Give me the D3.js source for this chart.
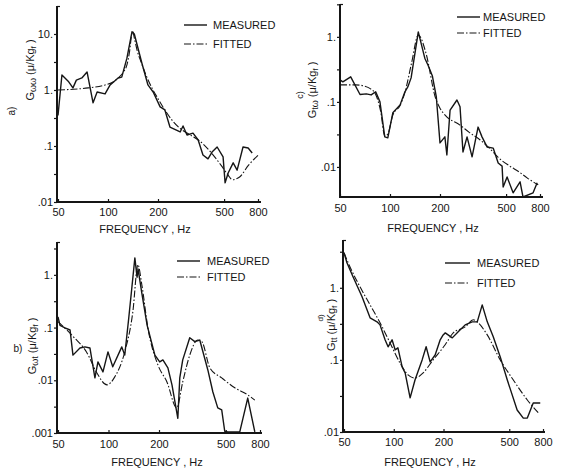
<!DOCTYPE html>
<html>
<head>
<meta charset="utf-8">
<script src="https://cdn.jsdelivr.net/npm/d3@7"></script>
<style>
  body { margin: 0; background: #fff; }
  text { font-family: "Liberation Sans", Arial, sans-serif; fill: #151515; }
</style>
</head>
<body>
<div id="chart"></div>
<script>
// frequency ticks shared by all four panels
const xTicks = [50, 100, 200, 500, 800];
const xTickLabels = ["50", "100", "200", "500", "800"];
const legendLabels = ["MEASURED", "FITTED"];
const xTitle = "FREQUENCY , Hz";

// a) G_ww  [Hz, value]
const aMeasured = [[50,0.35],[52.8,1.85],[58,1.4],[61.5,1.09],[64.5,1.5],[69.6,1.64],[74.8,2.1],[81.3,0.59],[86,0.92],[96,0.85],[103,1.23],[115,1.64],[121,1.7],[130,3.7],[139.5,11],[144,10],[160,3.0],[174,1.23],[187,0.92],[206,0.5],[220,0.44],[236,0.218],[272,0.178],[283,0.228],[299,0.157],[325,0.17],[349,0.128],[373,0.069],[400,0.059],[423,0.078],[454,0.096],[493,0.064],[507,0.022],[529,0.033],[567,0.05],[599,0.037],[650,0.096],[698,0.092],[738,0.075]];
const aFitted = [[50,1.0],[62,1.03],[76,1.09],[96,1.23],[108,1.4],[115,1.64],[124,2.1],[130,2.8],[135,5],[139,10],[141,11],[144,8.5],[150,5],[158,3.2],[170,1.8],[185,1.05],[200,0.7],[220,0.44],[245,0.28],[275,0.2],[310,0.16],[360,0.12],[420,0.075],[480,0.045],[530,0.03],[560,0.025],[620,0.028],[700,0.045],[800,0.068]];
const aYTicks = [10, 1, 0.1, 0.01];
const aYTickLabels = ["10.", "1.", ".1", ".01"];

// c) G_tw
const cMeasured = [[50,0.218],[52,0.203],[58,0.243],[66,0.13],[72,0.133],[77,0.128],[82,0.143],[87,0.1],[93,0.029],[97,0.028],[104,0.068],[115,0.09],[123,0.143],[128,0.17],[134,0.234],[148,1.19],[162,0.47],[170,0.36],[180,0.25],[190,0.12],[200,0.0234],[214,0.029],[220,0.0153],[230,0.075],[253,0.107],[264,0.084],[275,0.017],[291,0.029],[312,0.0143],[339,0.041],[358,0.029],[384,0.0203],[418,0.0195],[448,0.0115],[473,0.0103],[480,0.0049],[507,0.007],[551,0.004],[607,0.0059],[632,0.00345],[727,0.004],[769,0.0057]];
const cFitted = [[50,0.183],[62,0.183],[70,0.175],[76,0.16],[82,0.13],[88,0.07],[93,0.03],[97,0.032],[104,0.063],[115,0.088],[123,0.14],[135,0.4],[148,1.07],[165,0.55],[187,0.12],[200,0.08],[214,0.063],[264,0.044],[300,0.034],[349,0.026],[400,0.019],[448,0.014],[520,0.0105],[607,0.0082],[669,0.0068],[780,0.0053]];
const cYTicks = [1, 0.1, 0.01];
const cYTickLabels = ["1.", ".1", ".01"];

// b) G_wt
const bMeasured = [[50,0.16],[51.4,0.11],[55,0.099],[59,0.09],[61.4,0.03],[67.6,0.041],[72.4,0.043],[77.5,0.041],[83,0.0111],[86.5,0.0223],[92.7,0.0144],[99.3,0.0346],[106,0.018],[120,0.043],[125,0.03],[132,0.15],[138,0.6],[143.6,2.1],[148,0.9],[150,1.3],[158,0.45],[170,0.11],[189,0.03],[202,0.0223],[211,0.0244],[226,0.0172],[239,0.0082],[259,0.0019],[266,0.0111],[277,0.0244],[305,0.064],[327,0.054],[350,0.058],[391,0.0157],[419,0.006],[448,0.003],[473,0.00274],[493,0.00108],[514,0.00105],[606,0.00105],[676,0.0046],[745,0.00105]];
const bFitted = [[50,0.13],[62,0.066],[74.5,0.033],[85,0.014],[98,0.0082],[109,0.0116],[125,0.0346],[139.7,0.2],[149.7,1.55],[158,0.65],[171.7,0.099],[197,0.0196],[223,0.0093],[255,0.003],[277,0.0093],[305,0.03],[340,0.058],[360,0.054],[402,0.0172],[473,0.0111],[566,0.0072],[676,0.0053],[745,0.0042]];
const bYTicks = [1, 0.1, 0.01, 0.001];
const bYTickLabels = ["1.", ".1", ".01", ".001"];

// d) G_tt
const dMeasured = [[50,3.06],[52.1,2.22],[56.7,1.42],[64.3,0.75],[71.9,0.383],[79.2,0.337],[82.6,0.306],[88.6,0.19],[92.4,0.152],[97.7,0.19],[100,0.16],[101.9,0.138],[106,0.147],[112.4,0.08],[117.2,0.066],[125.6,0.0297],[134.6,0.053],[148.5,0.1],[157,0.152],[166,0.094],[178,0.117],[191,0.19],[199,0.222],[205,0.237],[226,0.202],[245.5,0.245],[270.5,0.306],[298,0.337],[320,0.337],[343,0.58],[368,0.337],[400,0.209],[441,0.11],[486,0.053],[558,0.0202],[608,0.0156],[643,0.0156],[698,0.0253],[770,0.0253]];
const dFitted = [[50,3.06],[54.3,1.96],[62.5,1.03],[71.9,0.58],[82.6,0.327],[95,0.172],[109,0.091],[122,0.062],[134.6,0.056],[150.6,0.066],[173,0.1],[204.7,0.162],[229,0.237],[270.5,0.287],[303,0.36],[324,0.327],[368,0.222],[441,0.1],[528,0.053],[643,0.0278],[750,0.0184]];
const dYTicks = [1, 0.1, 0.01];
const dYTickLabels = ["1.", ".1", ".01"];

const panels = [
  { tag: "a)", tagPos: [12, 111], tagRot: true, tagSize: 10, sub: "\u03c9\u03c9", gap: " ", labelPos: [34, 70],
    measured: aMeasured, fitted: aFitted, yTicks: aYTicks, yTickLabels: aYTickLabels,
    xRange: [58, 258], axisX: 57, axisEnd: 261, yDomain: [0.01, 31.6], yRange: [202, 6],
    tickPad: 4, titlePos: [145, 233], legend: [184, 207, 213, 25, 44] },
  { tag: "c)", tagPos: [300, 95], tagRot: true, tagSize: 9, sub: "t\u03c9", gap: " ", labelPos: [316, 90],
    measured: cMeasured, fitted: cFitted, yTicks: cYTicks, yTickLabels: cYTickLabels,
    xRange: [340, 540], axisX: 340, axisEnd: 543, yDomain: [0.00345, 3.2], yRange: [197, 4],
    tickPad: 5, titlePos: [433, 232], legend: [457, 480, 483, 17, 33] },
  { tag: "b)", tagPos: [18, 352], tagRot: false, tagSize: 10, sub: "\u03c9t", gap: "   ", labelPos: [36, 346],
    measured: bMeasured, fitted: bFitted, yTicks: bYTicks, yTickLabels: bYTickLabels,
    xRange: [58, 260], axisX: 57, axisEnd: 262, yDomain: [0.001, 4.2], yRange: [433, 242],
    tickPad: 5, titlePos: [157, 466], legend: [177, 200, 207, 261, 277] },
  { tag: "d)", tagPos: [320, 318], tagRot: true, tagSize: 8, sub: "tt", gap: " ", labelPos: [335, 325],
    measured: dMeasured, fitted: dFitted, yTicks: dYTicks, yTickLabels: dYTickLabels,
    xRange: [344, 543], axisX: 343, axisEnd: 545, yDomain: [0.01, 4.6], yRange: [432, 240],
    tickPad: 4, titlePos: [430, 466], legend: [445, 470, 477, 263, 283] }
];

const ink = "#151515";
const fitDash = "7,2,1.5,2";

const svg = d3.select("#chart").append("svg")
  .attr("width", 567)
  .attr("height", 475);

panels.forEach(p => {
  const g = svg.append("g");
  const x = d3.scaleLog().domain([50, 800]).range(p.xRange);
  const y = d3.scaleLog().domain(p.yDomain).range(p.yRange);
  const yBottom = p.yRange[0], yTop = p.yRange[1];

  // half-decade ticks on the left axis
  const lo = Math.ceil(Math.log10(p.yDomain[0]) * 2 - 1e-6);
  const hi = Math.floor(Math.log10(p.yDomain[1]) * 2 + 1e-6);
  const minor = d3.range(lo, hi + 1).map(k => Math.pow(10, k / 2));

  const yAxis = g.append("g")
    .attr("transform", `translate(${p.axisX},0)`)
    .call(d3.axisLeft(y).tickValues(minor).tickSize(3).tickSizeOuter(0).tickPadding(1)
      .tickFormat(d => {
        const i = p.yTicks.findIndex(t => Math.abs(Math.log10(t) - Math.log10(d)) < 1e-6);
        return i >= 0 ? p.yTickLabels[i] : "";
      }));
  yAxis.select(".domain").remove();
  yAxis.selectAll("line").attr("stroke", ink).attr("stroke-width", 1.2);
  yAxis.selectAll("text").attr("font-size", 11).attr("fill", ink)
    .style("font-family", '"Liberation Sans", Arial, sans-serif');

  const xAxis = g.append("g")
    .attr("transform", `translate(0,${yBottom})`)
    .call(d3.axisBottom(x).tickValues(xTicks).tickSize(-3).tickSizeOuter(0).tickPadding(p.tickPad)
      .tickFormat((d, i) => xTickLabels[i]));
  xAxis.select(".domain").remove();
  xAxis.selectAll("line").attr("stroke", ink).attr("stroke-width", 1.2);
  xAxis.selectAll("text").attr("font-size", 11).attr("fill", ink)
    .attr("dy", "0.9em")
    .style("font-family", '"Liberation Sans", Arial, sans-serif');

  // axis lines
  g.append("line")
    .attr("x1", p.axisX).attr("x2", p.axisX)
    .attr("y1", yTop).attr("y2", yBottom + 1)
    .attr("stroke", ink).attr("stroke-width", 2);
  g.append("line")
    .attr("x1", p.axisX).attr("x2", p.axisX + 3)
    .attr("y1", yTop + 0.5).attr("y2", yTop + 0.5)
    .attr("stroke", ink).attr("stroke-width", 1.2);
  g.append("line")
    .attr("x1", p.axisX - 1).attr("x2", p.axisEnd)
    .attr("y1", yBottom).attr("y2", yBottom)
    .attr("stroke", ink).attr("stroke-width", 2);

  // curves
  const clipId = "clip" + p.tag[0];
  svg.append("clipPath").attr("id", clipId)
    .append("rect")
    .attr("x", p.axisX).attr("y", yTop)
    .attr("width", p.axisEnd - p.axisX).attr("height", yBottom - yTop);

  const line = d3.line().x(d => x(d[0])).y(d => y(d[1]));
  const smooth = d3.line().x(d => x(d[0])).y(d => y(d[1])).curve(d3.curveMonotoneX);

  g.append("path")
    .datum(p.fitted)
    .attr("clip-path", `url(#${clipId})`)
    .attr("d", smooth)
    .attr("fill", "none")
    .attr("stroke", ink)
    .attr("stroke-width", 1.1)
    .attr("stroke-dasharray", fitDash);

  g.append("path")
    .datum(p.measured)
    .attr("clip-path", `url(#${clipId})`)
    .attr("d", line)
    .attr("fill", "none")
    .attr("stroke", ink)
    .attr("stroke-width", 1.4)
    .attr("stroke-linejoin", "round");

  // legend
  const [lx1, lx2, tx, ly1, ly2] = p.legend;
  g.append("line").attr("x1", lx1).attr("x2", lx2).attr("y1", ly1).attr("y2", ly1)
    .attr("stroke", ink).attr("stroke-width", 1.4);
  g.append("line").attr("x1", lx1).attr("x2", lx2).attr("y1", ly2).attr("y2", ly2)
    .attr("stroke", ink).attr("stroke-width", 1.1).attr("stroke-dasharray", fitDash);
  g.append("text").attr("x", tx).attr("y", ly1 + 4).attr("font-size", 11).text(legendLabels[0]);
  g.append("text").attr("x", tx).attr("y", ly2 + 4).attr("font-size", 11).text(legendLabels[1]);

  // x title
  g.append("text")
    .attr("x", p.titlePos[0]).attr("y", p.titlePos[1])
    .attr("text-anchor", "middle")
    .attr("font-size", 11)
    .text(xTitle);

  // y title with subscripts
  const t = g.append("text")
    .attr("transform", `translate(${p.labelPos[0]},${p.labelPos[1]}) rotate(-90)`)
    .attr("text-anchor", "middle")
    .attr("font-size", 11);
  t.append("tspan").text("G");
  t.append("tspan").attr("font-size", 9).attr("dy", 2).text(p.sub);
  t.append("tspan").attr("dy", -2).text(p.gap + "(\u03bc/Kg");
  t.append("tspan").attr("font-size", 8).attr("dy", 2).text("f");
  t.append("tspan").attr("dy", -2).text(" )");

  // panel tag
  const tag = g.append("text")
    .attr("font-size", p.tagSize)
    .attr("text-anchor", "middle")
    .text(p.tag);
  if (p.tagRot) tag.attr("transform", `translate(${p.tagPos[0] + 3},${p.tagPos[1]}) rotate(-90)`);
  else tag.attr("x", p.tagPos[0]).attr("y", p.tagPos[1]);
});
</script>
</body>
</html>
